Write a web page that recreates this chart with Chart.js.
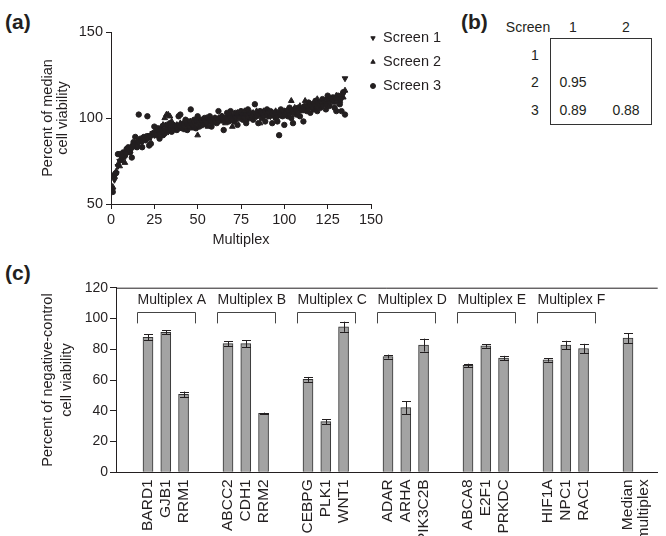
<!DOCTYPE html>
<html>
<head>
<meta charset="utf-8">
<script src="https://cdn.jsdelivr.net/npm/chart.js@4.4.0/dist/chart.umd.min.js"></script>
<style>
body{margin:0;width:666px;height:536px;overflow:hidden;background:#fff;position:relative;font-family:"Liberation Sans",Arial,sans-serif;color:#231f20}
canvas{position:absolute}
.lbl{position:absolute;font-weight:bold;font-size:21px;line-height:21px}
.t{position:absolute;font-size:14px;line-height:14px;white-space:nowrap;transform:translate(-50%,-50%)}
#box{position:absolute;left:550px;top:38px;width:100px;height:85px;border:1px solid #333}
</style>
</head>
<body>
<div class="lbl" style="left:5px;top:11px">(a)</div>
<div class="lbl" style="left:461px;top:11px">(b)</div>
<div class="lbl" style="left:5px;top:262px">(c)</div>
<canvas id="ca" width="460" height="262" style="left:0;top:0"></canvas>
<div id="tbl"></div>
<canvas id="cc" width="666" height="330" style="left:0;top:262px"></canvas>
<script>
// ---- panel (a): viability per multiplex, three screens ----
const screen1 = [58,64,68,72,75,77,78,80,79,82, 83,82,84,85,84,86,87,86,88,89,
  88,90,89,91,90,91,92,91,93,92, 93,94,92,94,95,93,95,94,96,95,
  96,95,97,96,95,97,96,97,98,96, 97,98,96,98,97,99,98,97,99,98,
  99,98,100,99,98,100,99,101,100,99, 101,100,101,100,102,101,100,102,101,102,
  101,102,103,101,102,103,102,101,103,102, 103,101,102,103,102,101,103,102,104,102,
  103,104,102,104,103,105,104,103,106,105, 105,107,106,105,107,106,108,107,106,108,
  109,107,109,108,110,109,111,110,112,111, 112,113,111,114,123];
const screen2 = [60,66,69,73,72,75,77,74,81,80, 81,84,83,85,86,84,86,88,87,89,
  89,88,90,91,92,90,92,93,95,96, 100,102,102,101,98,95,93,96,94,97,
  94,96,93,97,95,98,94,95,99,90, 98,96,99,97,100,95,98,99,97,100,
  98,100,98,101,99,97,101,100,102,95, 102,99,103,101,100,102,104,99,102,103,
  100,103,101,104,102,97,103,104,101,103, 104,102,103,101,104,103,101,104,102,104,
  102,105,103,110,104,106,103,105,107,104, 106,110,105,107,108,106,109,107,111,109,
  107,110,108,111,109,112,110,111,109,113, 111,110,113,112,116];
const screen3 = [57,67,68,79,79,76,80,78,82,83, 80,77,86,89,83,102,88,83,89,87,
  101,84,85,91,95,90,94,88,93,90, 91,96,93,97,92,96,95,93,101,102,
  94,97,99,93,98,105,96,99,94,101, 95,99,97,100,96,98,101,95,99,100,
  97,104,99,101,93,100,103,98,104,101, 98,103,96,101,104,99,103,97,105,100,
  103,99,108,101,97,104,100,103,98,105, 101,104,97,103,100,98,90,105,101,96,
  104,101,106,100,97,104,102,106,101,105, 98,107,104,109,103,108,105,110,104,107,
  106,111,108,105,113,107,110,112,106,104, 113,108,104,115,102];
const xTicksA = [0,25,50,75,100,125,150];
const yTicksA = [50,100,150];

// ---- panel (b): correlation between screens ----
const screens = ['1','2','3'];
const corr = [[null,null],[0.95,null],[0.89,0.88]];

// ---- panel (c): knock-down viability ----
const genes = ['BARD1','GJB1','RRM1','ABCC2','CDH1','RRM2','CEBPG','PLK1','WNT1',
  'ADAR','ARHA','PIK3C2B','ABCA8','E2F1','PRKDC','HIF1A','NPC1','RAC1',['Median','multiplex']];
const groupOf = [0,0,0,1,1,1,2,2,2,3,3,3,4,4,4,5,5,5,6];
const slotOf  = [0,1,2,0,1,2,0,1,2,0,1,2,0,1,2,0,1,2,0];
const groupNames = ['Multiplex A','Multiplex B','Multiplex C','Multiplex D','Multiplex E','Multiplex F'];
const viability = [87.7,91,50.7,83.6,83.6,38.3,60.4,32.9,94.6,75.2,42,82.7,69.5,82.2,74.2,73.1,82.7,80.5,87.2];
const errs      = [2,1.3,1.8,1.6,2.3,0.5,1.6,1.5,3.3,1.3,4.2,4.2,1.1,1.2,1.5,1.2,2.8,3,3.2];
const yTicksC = [0,20,40,60,80,100,120];

const ink = '#231f20';
const fam = "'Liberation Sans', Arial, sans-serif";
const famNarrow = "'Liberation Sans Narrow', 'Arial Narrow', 'Liberation Sans', sans-serif";

// table (b)
const tbl = document.getElementById('tbl');
function cell(txt, x, y){
  const d = document.createElement('div');
  d.className = 't'; d.textContent = txt;
  d.style.left = x + 'px'; d.style.top = y + 'px';
  tbl.appendChild(d);
}
tbl.innerHTML = '<div id="box"></div>';
cell('Screen', 528, 27);
const colX = [573, 626], rowY = [55, 82, 110];
cell(screens[0], colX[0], 27); cell(screens[1], colX[1], 27);
screens.forEach((s, r) => {
  cell(s, 535, rowY[r]);
  corr[r].forEach((v, c) => { if (v !== null) cell(v.toFixed(2), colX[c], rowY[r]); });
});

// chart (a)
const multiplex = screen1.map((_, i) => i + 1);
const pts = arr => arr.map((v, i) => ({x: multiplex[i], y: v}));

const legendA = {
  id: 'legendA',
  afterDraw(chart) {
    const ctx = chart.ctx;
    ctx.save();
    chart.data.datasets.forEach((ds, i) => {
      const y = 38 + i * 24;
      ctx.fillStyle = ink; ctx.strokeStyle = ink;
      Chart.helpers.drawPoint(ctx, {pointStyle: ds.pointStyle, rotation: ds.rotation || 0, radius: 2.5, borderWidth: 1}, 373, y);
      ctx.font = '14.5px ' + fam;
      ctx.textBaseline = 'middle';
      ctx.fillText(ds.label, 383, y);
    });
    ctx.restore();
  }
};

new Chart(document.getElementById('ca'), {
  type: 'scatter',
  data: {
    datasets: [
      {label: 'Screen 1', data: pts(screen1), pointStyle: 'triangle', rotation: 180, pointRadius: 3.3, backgroundColor: ink, borderColor: ink, borderWidth: 1},
      {label: 'Screen 2', data: pts(screen2), pointStyle: 'triangle', pointRadius: 3.3, backgroundColor: ink, borderColor: ink, borderWidth: 1},
      {label: 'Screen 3', data: pts(screen3), pointStyle: 'circle', pointRadius: 2.7, backgroundColor: ink, borderColor: ink, borderWidth: 1}
    ]
  },
  options: {
    responsive: false, animation: false,
    layout: {padding: {left: 0, top: 32, right: 89, bottom: 0}},
    plugins: {legend: {display: false}, tooltip: {enabled: false}},
    scales: {
      x: {
        type: 'linear', min: 0, max: 150,
        afterBuildTicks: s => { s.ticks = xTicksA.map(v => ({value: v})); },
        afterFit: s => { s.height = 58; },
        grid: {drawOnChartArea: false, tickLength: 5, color: ink},
        border: {color: ink},
        ticks: {color: ink, font: {family: fam, size: 14.5}, padding: 2},
        title: {display: true, text: 'Multiplex', color: ink, font: {family: fam, size: 14.5}, padding: {top: 0, bottom: 13}}
      },
      y: {
        min: 50, max: 150,
        afterBuildTicks: s => { s.ticks = yTicksA.map(v => ({value: v})); },
        afterFit: s => { s.width = 111; },
        grid: {drawOnChartArea: false, tickLength: 5, color: ink},
        border: {color: ink},
        ticks: {color: ink, font: {family: fam, size: 14.5}, padding: 3},
        title: {display: true, text: ['Percent of median', 'cell viability'], color: ink,
          font: {family: fam, size: 14.5, lineHeight: 1}, padding: {top: 41, bottom: 0}}
      }
    }
  },
  plugins: [legendA]
});

// chart (c)
const groupStep = 4.5;
const pos = genes.map((g, i) => groupOf[i] * groupStep + slotOf[i]);

const extrasC = {
  id: 'extrasC',
  afterDatasetsDraw(chart) {
    const ctx = chart.ctx, xs = chart.scales.x, ys = chart.scales.y, a = chart.chartArea;
    ctx.save();
    ctx.strokeStyle = ink; ctx.lineWidth = 1;
    // top frame line
    ctx.beginPath(); ctx.moveTo(a.left, a.top + 0.5); ctx.lineTo(a.right, a.top + 0.5); ctx.stroke();
    // error bars
    viability.forEach((v, i) => {
      const x = Math.round(xs.getPixelForValue(pos[i])) + 0.5;
      const y1 = ys.getPixelForValue(v + errs[i]), y2 = ys.getPixelForValue(v - errs[i]);
      ctx.beginPath();
      ctx.moveTo(x, y1); ctx.lineTo(x, y2);
      ctx.moveTo(x - 4.5, Math.round(y1) + 0.5); ctx.lineTo(x + 4.5, Math.round(y1) + 0.5);
      ctx.moveTo(x - 4.5, Math.round(y2) + 0.5); ctx.lineTo(x + 4.5, Math.round(y2) + 0.5);
      ctx.stroke();
    });
    // brackets
    ctx.strokeStyle = '#444';
    ctx.font = '14px ' + fam; ctx.fillStyle = ink; ctx.textBaseline = 'alphabetic';
    groupNames.forEach((name, g) => {
      const x1 = Math.round(xs.getPixelForValue(g * groupStep - 0.63)) + 0.5;
      const x2 = Math.round(xs.getPixelForValue(g * groupStep + 2.63)) + 0.5;
      const yt = Math.round(ys.getPixelForValue(104.4)) + 0.5, ye = ys.getPixelForValue(96.8);
      ctx.beginPath();
      ctx.moveTo(x1, ye); ctx.lineTo(x1, yt); ctx.lineTo(x2, yt); ctx.lineTo(x2, ye);
      ctx.stroke();
      ctx.fillText(name, x1, ys.getPixelForValue(109.2));
    });
    ctx.restore();
  }
};

new Chart(document.getElementById('cc'), {
  type: 'bar',
  data: {
    datasets: [{
      data: pos.map((p, i) => ({x: p, y: viability[i]})),
      backgroundColor: '#a3a3a3', borderColor: '#333', borderWidth: 1, barThickness: 10
    }]
  },
  options: {
    responsive: false, animation: false,
    layout: {padding: {left: 0, top: 25.7, right: 0, bottom: 0}},
    plugins: {legend: {display: false}, tooltip: {enabled: false}},
    scales: {
      x: {
        type: 'linear', min: -1.8, max: 28.67, offset: false,
        afterBuildTicks: s => { s.ticks = pos.map(v => ({value: v})); },
        afterFit: s => { s.height = 119.7; },
        grid: {display: false, drawTicks: false},
        border: {color: ink},
        ticks: {autoSkip: false, minRotation: 90, maxRotation: 90, padding: 7, color: ink,
          font: {family: famNarrow, size: 15.5, lineHeight: 1},
          callback: (v, i) => genes[i]}
      },
      y: {
        min: 0, max: 120,
        afterBuildTicks: s => { s.ticks = yTicksC.map(v => ({value: v})); },
        afterFit: s => { s.width = 116; },
        grid: {drawOnChartArea: false, tickLength: 6, color: ink},
        border: {color: ink},
        ticks: {color: ink, font: {family: fam, size: 14}, padding: 2},
        title: {display: true, text: ['Percent of negative-control', 'cell viability'], color: ink,
          font: {family: fam, size: 14.5, lineHeight: 1.3}, padding: {top: 38.5, bottom: 0}}
      }
    }
  },
  plugins: [extrasC]
});
</script>
</body>
</html>
